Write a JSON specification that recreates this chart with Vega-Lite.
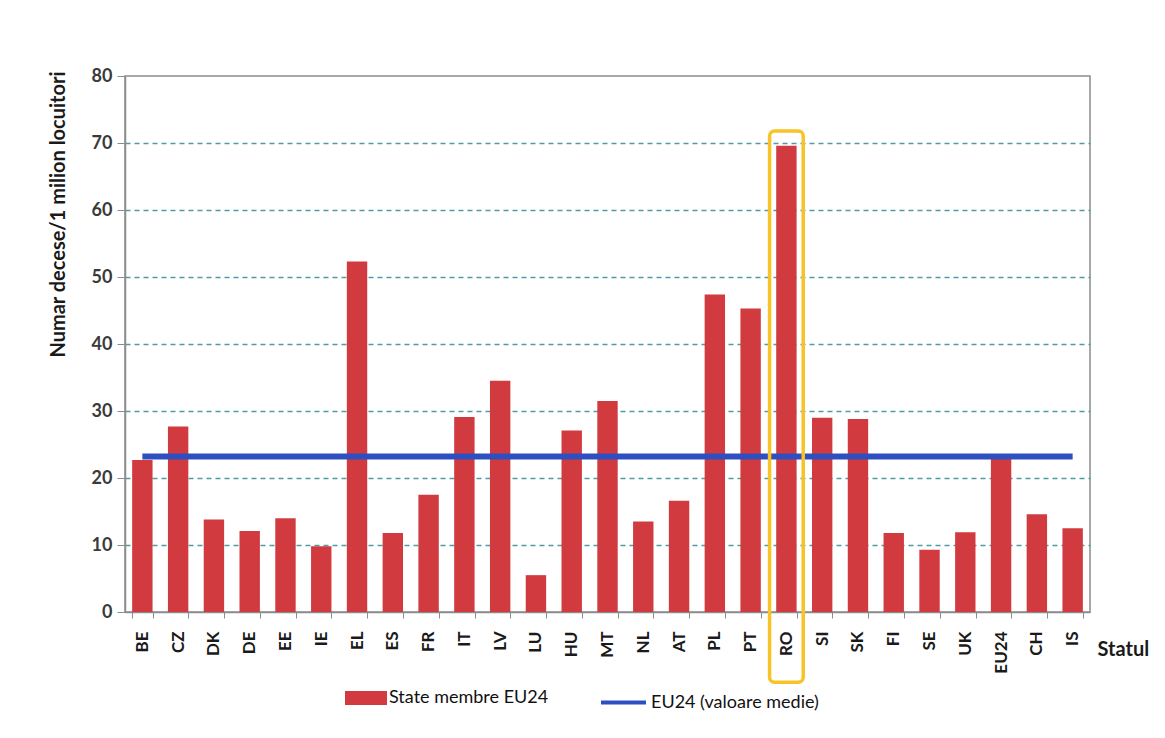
{
  "$schema": "https://vega.github.io/schema/vega-lite/v6.json",
  "width": 965,
  "height": 536,
  "autosize": "none",
  "padding": {"left": 125, "top": 76, "right": 75, "bottom": 126},
  "background": "white",
  "config": {
    "font": "Lato",
    "view": {"stroke": "#8c8c8c", "strokeWidth": 1.5}
  },
  "datasets": {
    "rates": [
      {"country": "BE", "value": 22.7, "avg": 23.2},
      {"country": "CZ", "value": 27.7, "avg": 23.2},
      {"country": "DK", "value": 13.8, "avg": 23.2},
      {"country": "DE", "value": 12.1, "avg": 23.2},
      {"country": "EE", "value": 14.0, "avg": 23.2},
      {"country": "IE", "value": 9.8, "avg": 23.2},
      {"country": "EL", "value": 52.3, "avg": 23.2},
      {"country": "ES", "value": 11.8, "avg": 23.2},
      {"country": "FR", "value": 17.5, "avg": 23.2},
      {"country": "IT", "value": 29.1, "avg": 23.2},
      {"country": "LV", "value": 34.5, "avg": 23.2},
      {"country": "LU", "value": 5.5, "avg": 23.2},
      {"country": "HU", "value": 27.1, "avg": 23.2},
      {"country": "MT", "value": 31.5, "avg": 23.2},
      {"country": "NL", "value": 13.5, "avg": 23.2},
      {"country": "AT", "value": 16.6, "avg": 23.2},
      {"country": "PL", "value": 47.4, "avg": 23.2},
      {"country": "PT", "value": 45.3, "avg": 23.2},
      {"country": "RO", "value": 69.6, "avg": 23.2},
      {"country": "SI", "value": 29.0, "avg": 23.2},
      {"country": "SK", "value": 28.8, "avg": 23.2},
      {"country": "FI", "value": 11.8, "avg": 23.2},
      {"country": "SE", "value": 9.3, "avg": 23.2},
      {"country": "UK", "value": 11.9, "avg": 23.2},
      {"country": "EU24", "value": 23.0, "avg": 23.2},
      {"country": "CH", "value": 14.6, "avg": 23.2},
      {"country": "IS", "value": 12.5, "avg": 23.2}
    ],
    "highlight": [
      {"country": "RO", "top": 71.8, "bottom": -10.5}
    ]
  },
  "layer": [
    {
      "data": {"name": "rates"},
      "mark": {"type": "bar", "color": "#d13b3f"},
      "encoding": {
        "x": {
          "field": "country",
          "type": "nominal",
          "sort": null,
          "scale": {"paddingInner": 0.43, "paddingOuter": 0.2},
          "axis": {
            "title": "Statul",
            "titleFont": "Lato",
            "titleFontSize": 20,
            "titleFontWeight": "bold",
            "titleColor": "#1a1a1a",
            "titleAnchor": null,
            "titleAlign": "left",
            "titleBaseline": "middle",
            "titleX": 972,
            "titleY": 37,
            "labelAngle": -90,
            "labelFont": "Lato",
            "labelFontSize": 17,
            "labelFontWeight": "bold",
            "labelColor": "#1a1a1a",
            "labelPadding": 13,
            "tickBand": "extent",
            "tickSize": 6,
            "tickColor": "#8c8c8c",
            "domainColor": "#8c8c8c",
            "domainWidth": 1.5
          }
        },
        "y": {
          "field": "value",
          "type": "quantitative",
          "scale": {"domain": [0, 80], "nice": false},
          "axis": {
            "values": [0, 10, 20, 30, 40, 50, 60, 70, 80],
            "title": "Numar decese/1 milion locuitori",
            "titleFont": "Lato",
            "titleFontSize": 20,
            "titleFontWeight": "bold",
            "titleColor": "#1a1a1a",
            "titleAngle": -90,
            "titleAnchor": null,
            "titleAlign": "right",
            "titleBaseline": "alphabetic",
            "titleX": -61,
            "titleY": -5,
            "titleLimit": 600,
            "labelFont": "Lato",
            "labelFontSize": 18,
            "labelFontWeight": "bold",
            "labelColor": "#3a3a3a",
            "labelPadding": 5,
            "tickSize": 8,
            "tickColor": "#8c8c8c",
            "domainColor": "#8c8c8c",
            "domainWidth": 1.5,
            "grid": true,
            "gridColor": "#4f9aa3",
            "gridDash": [5, 4],
            "gridWidth": 1.3,
            "gridOpacity": {"condition": {"test": "datum.value === 80 || datum.value === 0", "value": 0}, "value": 1}
          }
        },
        "fill": {
          "datum": "State membre EU24",
          "type": "nominal",
          "scale": {"range": ["#d13b3f"]},
          "legend": {
            "title": null,
            "orient": "none",
            "legendX": 232,
            "legendY": 613,
            "symbolType": "M-3,-1H3V1H-3Z",
            "symbolSize": 196,
            "symbolStrokeWidth": 0,
            "labelFont": "Lato",
            "labelFontSize": 18,
            "labelColor": "#111111",
            "labelOffset": 14,
            "labelLimit": 500
          }
        }
      }
    },
    {
      "data": {"name": "rates"},
      "mark": {"type": "line", "strokeWidth": 6, "color": "#2e4fc0"},
      "encoding": {
        "x": {"field": "country", "type": "nominal", "sort": null},
        "y": {"field": "avg", "type": "quantitative"},
        "stroke": {
          "datum": "EU24 (valoare medie)",
          "type": "nominal",
          "scale": {"range": ["#2e4fc0"]},
          "legend": {
            "title": null,
            "orient": "none",
            "legendX": 474,
            "legendY": 602,
            "symbolType": "stroke",
            "symbolSize": 2025,
            "symbolStrokeWidth": 4,
            "labelFont": "Lato",
            "labelFontSize": 18,
            "labelColor": "#111111",
            "labelOffset": 3,
            "labelLimit": 500
          }
        }
      }
    },
    {
      "data": {"name": "highlight"},
      "mark": {
        "type": "bar",
        "fill": "transparent",
        "stroke": "#f7c325",
        "strokeWidth": 3.5,
        "cornerRadius": 5,
        "width": {"band": 1.65}
      },
      "encoding": {
        "x": {"field": "country", "type": "nominal", "sort": null},
        "y": {"field": "top", "type": "quantitative"},
        "y2": {"field": "bottom"}
      }
    }
  ]
}
